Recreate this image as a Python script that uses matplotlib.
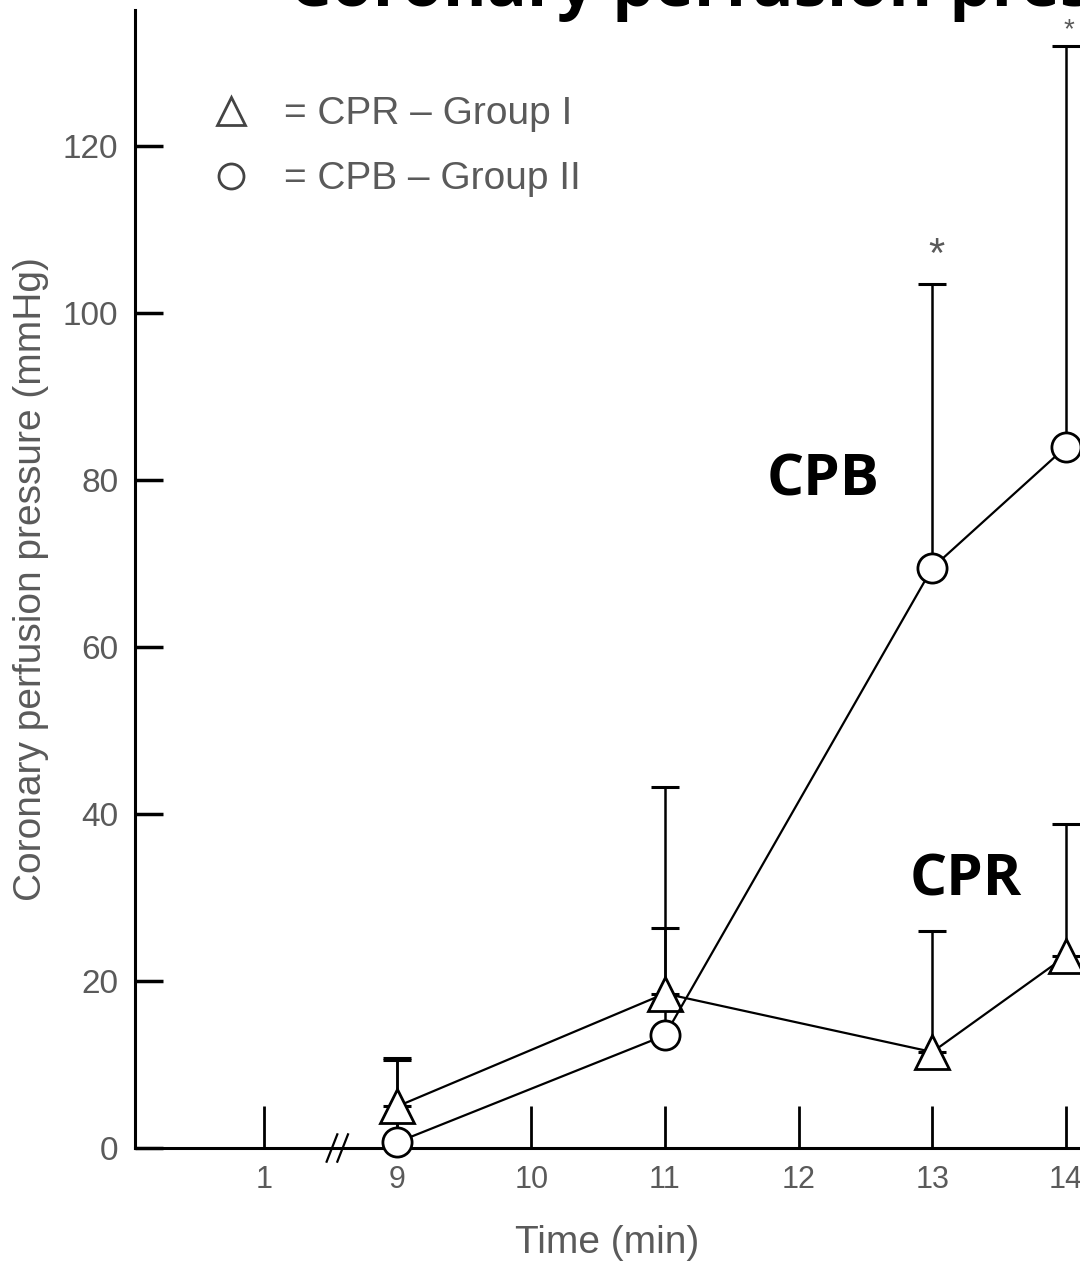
import matplotlib
import matplotlib.pyplot as plt
from matplotlib.lines import Line2D
import numpy as np

matplotlib.use('agg')

# time points (min) plotted on a broken axis: "1" sits just left of the break
tick_labels = ['1', '9', '10', '11', '12', '13', '14']
tick_pos = [8, 9, 10, 11, 12, 13, 14]

times = [9, 11, 13, 14]
cpr_mean = [5.0, 18.5, 11.5, 23.0]
cpr_sd = [5.8, 7.8, 14.5, 15.8]
cpb_mean = [0.7, 13.5, 69.5, 84.0]
cpb_sd = [9.8, 29.7, 34.0, 48.0]

grey = '#5a5a5a'
label_font = ['Liberation Sans', 'DejaVu Sans']
bold_font = ['Open Sans', 'DejaVu Sans']

fig = plt.figure(figsize=(10.8, 12.61), dpi=100)
ax = fig.add_axes([0.125, 0.0896, 0.875, 0.9024])

ax.errorbar(times, cpr_mean, yerr=[np.zeros(4), cpr_sd], fmt='none', ecolor='black',
            elinewidth=1.8, capsize=10, capthick=2.2, clip_on=False, zorder=2)
ax.errorbar(times, cpb_mean, yerr=[np.zeros(4), cpb_sd], fmt='none', ecolor='black',
            elinewidth=1.8, capsize=10, capthick=2.2, clip_on=False, zorder=2)

ax.plot(times, cpr_mean, color='black', lw=1.6, marker='^', ms=24, mfc='white',
        mec='black', mew=2, clip_on=False, zorder=3)
ax.plot(times, cpb_mean, color='black', lw=1.6, marker='o', ms=21, mfc='white',
        mec='black', mew=2, clip_on=False, zorder=4)

ax.set_xlim(7.037, 14.104)
ax.set_ylim(0, 136.3)

for side in ['top', 'right']:
    ax.spines[side].set_visible(False)
for side in ['left', 'bottom']:
    ax.spines[side].set_linewidth(2.2)

ax.set_xticks(tick_pos)
ax.set_xticklabels(tick_labels, fontsize=22, color=grey, family=label_font)
ax.set_yticks(np.arange(0, 121, 20))
ax.set_yticklabels([str(v) for v in range(0, 121, 20)], fontsize=24, color=grey,
                   family=label_font)
ax.tick_params(axis='x', direction='in', length=30, width=2, pad=12, color='black')
ax.tick_params(axis='y', direction='in', length=20, width=2.5, pad=12, color='black')

ax.set_xlabel('Time (min)', fontsize=28, color=grey, family=label_font, labelpad=22)
ax.set_ylabel('Coronary perfusion pressure (mmHg)', fontsize=28, color=grey,
              family=label_font, labelpad=10)

# axis break marks between "1" and "9"
brk = (tick_pos[0] + tick_pos[1]) / 2 + 0.05
trans = ax.get_xaxis_transform()
for off in (-0.04, 0.04):
    ax.plot([brk + off - 0.04, brk + off + 0.04], [-0.012, 0.012], color='black',
            lw=1.6, transform=trans, clip_on=False)

# legend
handles = [Line2D([], [], ls='none', marker='^', ms=20, mfc='white', mec='#444444', mew=2),
           Line2D([], [], ls='none', marker='o', ms=18, mfc='white', mec='#444444', mew=2)]
ax.legend(handles, ['= CPR \u2013 Group I', '= CPB \u2013 Group II'], loc='upper left',
          bbox_to_anchor=(0.04, 0.955), frameon=False, handlelength=1.2,
          handletextpad=0.75, labelspacing=0.75, labelcolor=grey,
          prop={'family': label_font, 'size': 28})

ax.text(12.18, 80, 'CPB', fontsize=42, fontweight='bold', family=bold_font,
        ha='center', va='center', color='black')
ax.text(13.25, 32, 'CPR', fontsize=42, fontweight='bold', family=bold_font,
        ha='center', va='center', color='black')
ax.text(13.03, cpb_mean[2] + cpb_sd[2] + 1.0, '*', fontsize=30, color=grey,
        ha='center', va='bottom', family=label_font)
ax.text(14.02, cpb_mean[3] + cpb_sd[3] + 0.3, '*', fontsize=20, color=grey,
        ha='center', va='bottom', family=label_font, clip_on=False)

fig.text(0.268, 1 - 6 / 1261, 'Coronary perfusion pressure', fontsize=48,
         fontweight='bold', family=bold_font, ha='left', va='baseline')

plt.savefig('out.png', dpi=100)
